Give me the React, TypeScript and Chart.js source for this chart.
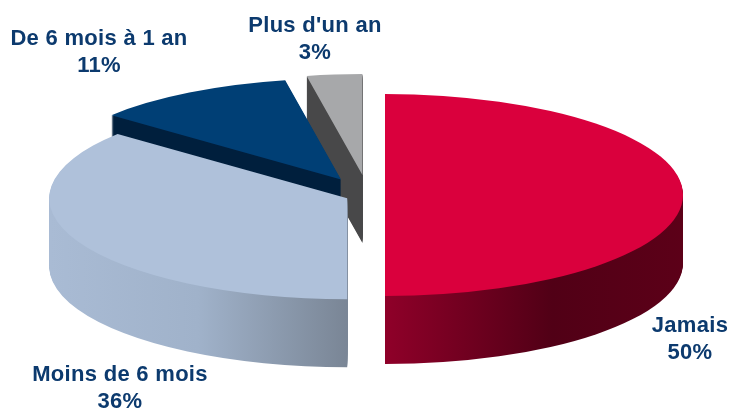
import React, { useEffect, useRef } from "react";
import { Chart, registerables } from "chart.js";

Chart.register(...registerables);

const categories = ["Jamais", "Moins de 6 mois", "De 6 mois à 1 an", "Plus d'un an"];
const shares = [50, 36, 11, 3];
const topColors = ["#da003d", "#afc1da", "#003f75", "#a7a8aa"];

// Appearance of the tilted, exploded pie (screen pixels).
const explode = [17, 23, 53, 59];
const centre = { x: 368, y: 195 };
const radiusX = 298;
const radiusY = 101;
const depth = 68;
const sideStops: [number, string][][] = [
  [[0, "#8f0029"], [0.56, "#510016"], [1, "#5c0018"]],
  [[0, "#a9bbd4"], [0.5, "#a0b2ca"], [1, "#7a8696"]],
  [[0, "#001f3d"], [1, "#001f3d"]],
  [[0, "#484849"], [1, "#484849"]],
];
const sideRange = [[385, 683], [50, 346], [113, 341], [308, 363]];
const labelCentres = [
  { x: 690, y: 326 },
  { x: 120, y: 375 },
  { x: 99, y: 39 },
  { x: 315, y: 26 },
];
const lineGap = 27;
const labelColor = "#0c3a6e";

const arcStyle = (backgroundColor: any) => ({
  backgroundColor,
  borderColor: "transparent",
  borderWidth: 0,
  borderAlign: "center",
  borderDash: [],
  borderDashOffset: 0,
  borderJoinStyle: "round",
  offset: 0,
  spacing: 0,
  circular: true,
});

const tiltedPie = {
  id: "tiltedPie",
  beforeDatasetsDraw(chart: any) {
    const { ctx } = chart;
    const arcs = chart.getDatasetMeta(0).data;
    for (let i = arcs.length - 1; i >= 0; i--) {
      const arc = arcs[i];
      const sx = radiusX / arc.outerRadius;
      const sy = radiusY / arc.outerRadius;
      const mid = (arc.startAngle + arc.endAngle) / 2;
      const tx = centre.x + Math.cos(mid) * explode[i];
      const ty = centre.y + (Math.sin(mid) * explode[i] * sy) / sx;
      const toInner = (px: number) => (px - tx) / sx + arc.x;
      const grad = ctx.createLinearGradient(toInner(sideRange[i][0]), 0, toInner(sideRange[i][1]), 0);
      sideStops[i].forEach(([p, c]) => grad.addColorStop(p, c));
      const original = arc.options;
      const paint = (lift: number, fill: any) => {
        ctx.save();
        ctx.translate(tx, ty + lift);
        ctx.scale(sx, sy);
        ctx.translate(-arc.x, -arc.y);
        arc.options = arcStyle(fill);
        arc.draw(ctx);
        ctx.restore();
      };
      for (let d = depth; d >= 1; d--) paint(d, grad);
      paint(0, topColors[i]);
      arc.options = original;
    }
    return false;
  },
  afterDraw(chart: any) {
    const { ctx } = chart;
    ctx.save();
    ctx.font = 'bold 22px "Liberation Sans", Arial, sans-serif';
    ctx.letterSpacing = "0.3px";
    ctx.fillStyle = labelColor;
    ctx.textAlign = "center";
    ctx.textBaseline = "middle";
    categories.forEach((name, i) => {
      ctx.fillText(name, labelCentres[i].x, labelCentres[i].y);
      ctx.fillText(`${shares[i]}%`, labelCentres[i].x, labelCentres[i].y + lineGap);
    });
    ctx.restore();
  },
};

export default function App() {
  const ref = useRef<HTMLCanvasElement>(null);
  useEffect(() => {
    const chart = new Chart(ref.current!, {
      type: "pie",
      data: {
        labels: categories,
        datasets: [{ data: shares, backgroundColor: topColors, borderWidth: 0 }],
      },
      options: {
        animation: false,
        responsive: false,
        events: [],
        plugins: { legend: { display: false }, tooltip: { enabled: false } },
      },
      plugins: [tiltedPie],
    } as any);
    return () => chart.destroy();
  }, []);
  return (
    <div style={{ position: "fixed", left: 0, top: 0, width: 732, height: 410, background: "#fff" }}>
      <canvas ref={ref} width={732} height={410} style={{ display: "block" }} />
    </div>
  );
}
